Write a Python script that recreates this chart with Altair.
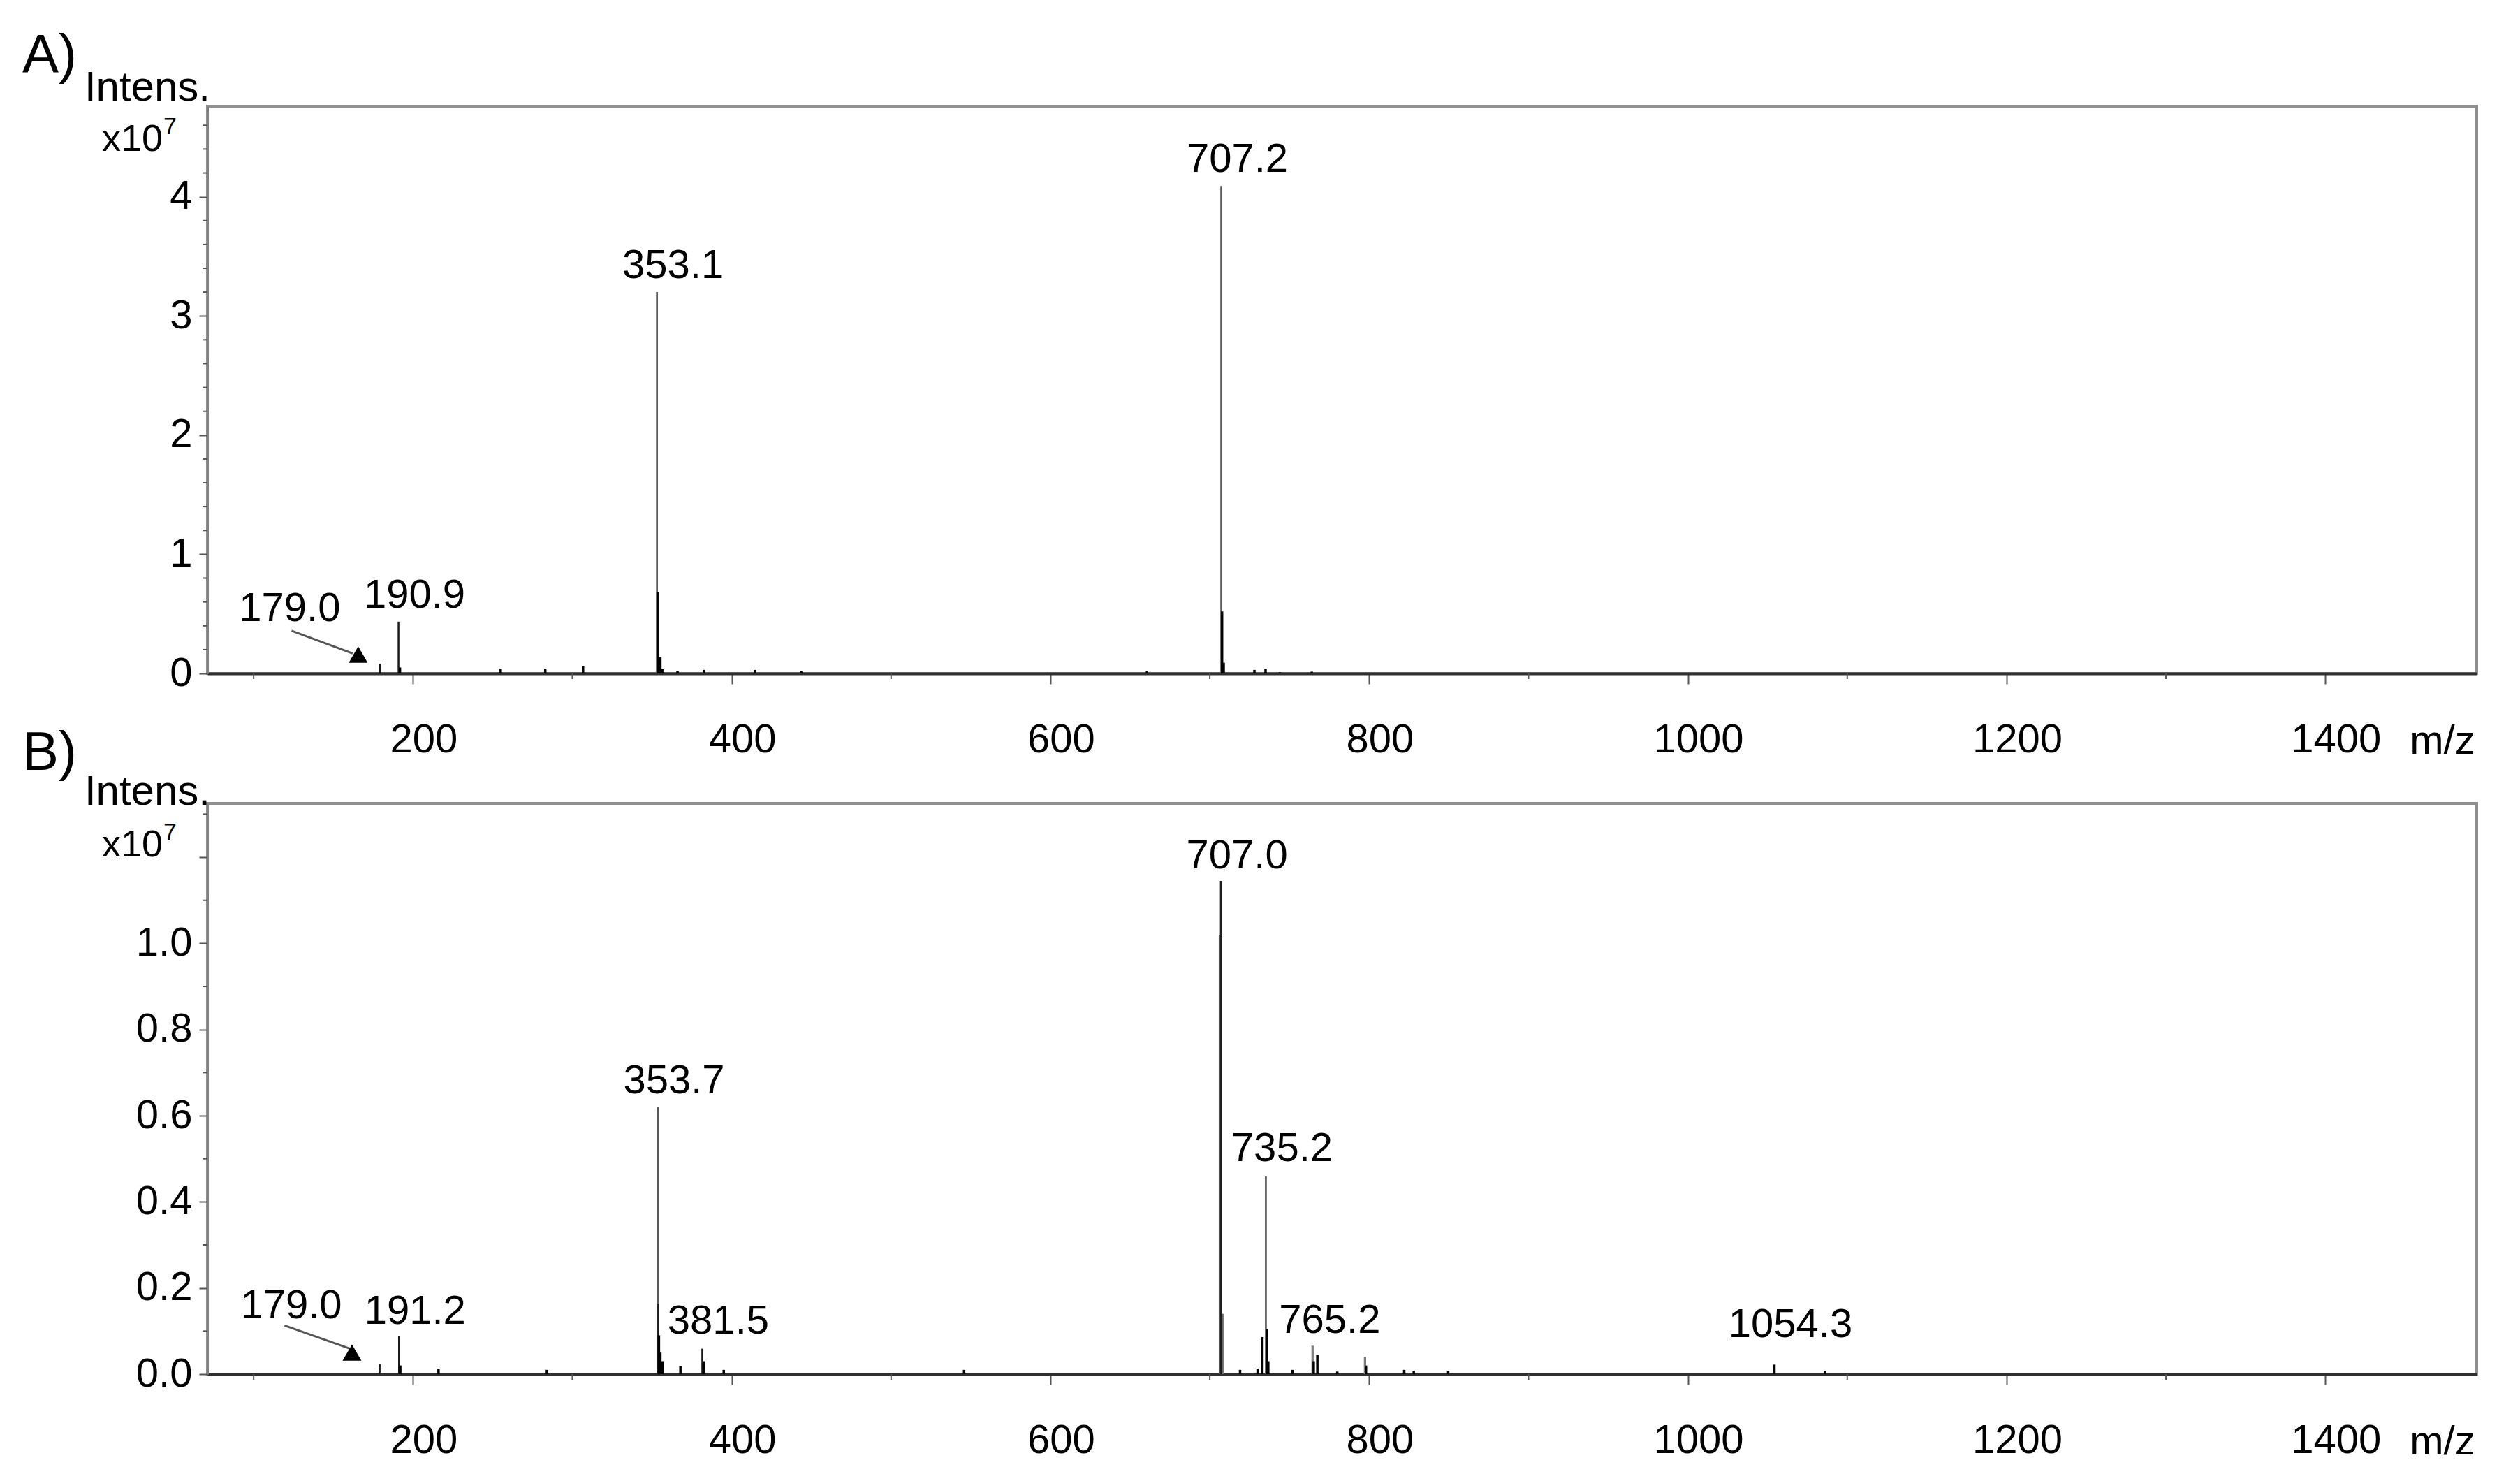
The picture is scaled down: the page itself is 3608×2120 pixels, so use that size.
import altair as alt
import pandas as pd

FONT = "Liberation Sans"

# ---------------- data (intensity in units of 1e7) -------------
# Panel A
a_mz = [179.2, 190.9, 191.8, 255.0, 283.0, 306.7, 353.1, 353.5, 355.2, 356.4, 366.0,
        382.5, 414.7, 443.6, 660.6, 707.2, 707.7, 708.7, 728.0, 735.0, 744.0, 764.0]
a_int = [0.08, 0.435, 0.05, 0.04, 0.04, 0.06, 3.20, 0.68, 0.14, 0.04, 0.02,
         0.03, 0.03, 0.02, 0.02, 4.09, 0.52, 0.09, 0.03, 0.04, 0.01, 0.015]
a_tone = ["thin", "thin", "black", "black", "black", "black", "line", "black", "black", "black", "black",
          "black", "black", "black", "black", "line", "black", "black", "black", "black", "black", "black"]
a_label_text = ["190.9", "353.1", "707.2", "179.0"]
a_label_mz = [190.9, 353.1, 707.2, 112.6]
a_label_at = [0.435, 3.20, 4.09, 0.32]
a_arrow = [123.8, 0.358, 162.1, 0.168]      # x1, y1, x2, y2
a_marker = [165.6, 0.158]

# Panel B
b_mz = [179.1, 191.2, 192.0, 216.0, 284.0, 353.7, 353.9, 354.3, 355.2, 356.5, 367.8,
        381.5, 382.4, 395.0, 545.8, 706.3, 708.0, 707.0, 719.0, 730.0, 733.0, 735.2,
        735.8, 736.7, 751.8, 764.5, 765.2, 767.5, 780.0, 797.4, 798.0, 822.0, 828.0,
        849.6, 1054.3, 1086.0]
b_int = [0.023, 0.089, 0.02, 0.013, 0.01, 0.62, 0.162, 0.09, 0.05, 0.03, 0.018,
         0.059, 0.03, 0.01, 0.01, 1.02, 0.14, 1.145, 0.01, 0.013, 0.086, 0.459,
         0.105, 0.03, 0.01, 0.066, 0.03, 0.044, 0.006, 0.04, 0.02, 0.01, 0.008,
         0.008, 0.022, 0.008]
b_tone = ["thin", "thin", "black", "black", "black", "line", "thin", "black", "black", "black", "black",
          "thin", "black", "black", "black", "wide", "wide", "dark", "black", "black", "black", "line",
          "black", "black", "black", "gray", "black", "black", "black", "gray", "black", "black", "black",
          "black", "black", "black"]
b_label_text = ["191.2", "353.7", "381.5", "707.0", "735.2", "765.2", "1054.3", "179.0"]
b_label_mz = [191.2, 353.7, 381.5, 707.0, 735.2, 765.2, 1054.3, 113.5]
b_label_at = [0.085, 0.62, 0.062, 1.142, 0.462, 0.064, 0.053, 0.097]
b_arrow = [119.4, 0.113, 162.1, 0.057]
b_marker = [161.7, 0.05]

x_major = [200, 400, 600, 800, 1000, 1200, 1400]
x_minor = [100, 300, 500, 700, 900, 1100, 1300]
a_y_major = [0, 1, 2, 3, 4]
a_y_minor = [0.2, 0.4, 0.6, 0.8, 1.2, 1.4, 1.6, 1.8, 2.2, 2.4, 2.6, 2.8,
             3.2, 3.4, 3.6, 3.8, 4.2, 4.4, 4.6]
b_y_major = [0.0, 0.2, 0.4, 0.6, 0.8, 1.0, 1.2]
b_y_minor = [0.1, 0.3, 0.5, 0.7, 0.9, 1.1, 1.3]

XDOM = [71, 1495]
W = 3249

tone_domain = ["thin", "line", "dark", "wide", "gray", "black"]
tone_color = ["#1a1a1a", "#5a5a5a", "#1e1e1e", "#6e6e6e", "#7e7e7e", "#000000"]
tone_width = [2.5, 3.5, 3.5, 7, 4, 4]


def one(text):
    return pd.DataFrame({"t": [text]})


def panel(letter, mz, inten, tone, lt, lmz, lat, arrow, marker,
          ymax, H, ymaj, ymin, yfmt, label_expr, intens_y, x10_y, sup_y, anchor):
    xs = alt.Scale(domain=XDOM, nice=False, zero=False)
    ys = alt.Scale(domain=[0, ymax], nice=False, zero=True)
    xaxis = alt.Axis(values=x_major, tickSize=15, labelPadding=51, labelOffset=15,
                     title=None, labelFlush=False, format="d")
    ykw = dict(values=ymaj, format=yfmt, tickSize=12, labelPadding=10, title=None)
    if label_expr:
        ykw["labelExpr"] = label_expr
    yaxis = alt.Axis(**ykw)
    df = pd.DataFrame({"mz": mz, "i": inten, "tone": tone})
    sticks = alt.Chart(df).mark_rule().encode(
        x=alt.X("mz:Q", scale=xs, axis=xaxis),
        y=alt.Y("i:Q", scale=ys, axis=yaxis),
        y2=alt.datum(0),
        color=alt.Color("tone:N", scale=alt.Scale(domain=tone_domain, range=tone_color), legend=None),
        size=alt.Size("tone:N", scale=alt.Scale(domain=tone_domain, range=tone_width), legend=None),
    )
    ldf = pd.DataFrame({"mz": lmz, "i": lat, "t": lt})
    labels = alt.Chart(ldf).mark_text(font=FONT, fontSize=58, align="center", baseline="alphabetic",
                                      dx=23, dy=-20, color="black").encode(
        x=alt.X("mz:Q", scale=xs, axis=xaxis), y=alt.Y("i:Q", scale=ys, axis=yaxis), text="t:N")
    adf = pd.DataFrame({"mz": [arrow[0]], "i": [arrow[1]], "x2": [arrow[2]], "y2": [arrow[3]]})
    arr = alt.Chart(adf).mark_rule(color="#555555", strokeWidth=3).encode(
        x=alt.X("mz:Q", scale=xs, axis=xaxis), x2="x2:Q",
        y=alt.Y("i:Q", scale=ys, axis=yaxis), y2="y2:Q")
    mdf = pd.DataFrame({"mz": [marker[0]], "i": [marker[1]]})
    tri = alt.Chart(mdf).mark_point(shape="triangle-up", filled=True, color="black", size=729,
                                    opacity=1, strokeWidth=0).encode(
        x=alt.X("mz:Q", scale=xs, axis=xaxis), y=alt.Y("i:Q", scale=ys, axis=yaxis))
    xmin = alt.Chart(pd.DataFrame({"mz": x_minor})).mark_rule(color="#555555", strokeWidth=2).encode(
        x=alt.X("mz:Q", scale=xs, axis=xaxis), y=alt.value(H), y2=alt.value(H + 8))
    ymin_l = alt.Chart(pd.DataFrame({"i": ymin})).mark_rule(color="#555555", strokeWidth=2).encode(
        y=alt.Y("i:Q", scale=ys, axis=yaxis), x=alt.value(-7), x2=alt.value(0))
    letter_t = alt.Chart(one(letter)).mark_text(font=FONT, fontSize=78, align="left",
                                                baseline="alphabetic", color="black").encode(
        text="t:N", x=alt.value(-265), y=alt.value(-48))
    intens = alt.Chart(one("Intens.")).mark_text(font=FONT, fontSize=60, align="right",
                                                 baseline="alphabetic", color="black").encode(
        text="t:N", x=alt.value(4), y=alt.value(intens_y))
    x10 = alt.Chart(one("x10")).mark_text(font=FONT, fontSize=54, align="right",
                                          baseline="alphabetic", color="black").encode(
        text="t:N", x=alt.value(-64), y=alt.value(x10_y))
    sup = alt.Chart(one("7")).mark_text(font=FONT, fontSize=34, align="left",
                                        baseline="alphabetic", color="black").encode(
        text="t:N", x=alt.value(-63), y=alt.value(sup_y))
    mzt = alt.Chart(one("m/z")).mark_text(font=FONT, fontSize=58, align="center",
                                          baseline="alphabetic", color="black").encode(
        text="t:N", x=alt.value(3200), y=alt.value(H + 115))
    layers = [sticks, xmin, ymin_l, labels, arr, tri, letter_t, intens, x10, sup, mzt]
    if anchor:
        anc = alt.Chart(one("")).mark_rule(opacity=0, strokeWidth=1).encode(
            x=alt.value(-287), x2=alt.value(-287), y=alt.value(-142), y2=alt.value(-141))
        layers.append(anc)
    return alt.layer(*layers).properties(width=W, height=H)


A = panel("A)", a_mz, a_int, a_tone, a_label_text, a_label_mz, a_label_at, a_arrow, a_marker,
          4.76, 812, a_y_major, a_y_minor, "d", None, -8, 64, 40, True)
B = panel("B)", b_mz, b_int, b_tone, b_label_text, b_label_mz, b_label_at, b_arrow, b_marker,
          1.325, 817, b_y_major, b_y_minor, ".1f", "datum.value > 1.1 ? '' : datum.label", 2, 76, 52, False)

chart = alt.vconcat(A, B, spacing=186, bounds="flush", padding=0,
                    autosize=alt.AutoSizeParams(type="pad")).configure_view(
    stroke="#8f8f8f", strokeWidth=4
).configure_axis(
    labelFont=FONT, labelFontSize=58, labelColor="#000000", tickColor="#555555",
    tickWidth=2, grid=False
).configure_axisX(domainColor="#303030", domainWidth=4).configure_axisY(
    domainColor="#808080", domainWidth=3
).properties(background="white")

chart.save("out.html", embed_options={"renderer": "svg", "actions": False})
